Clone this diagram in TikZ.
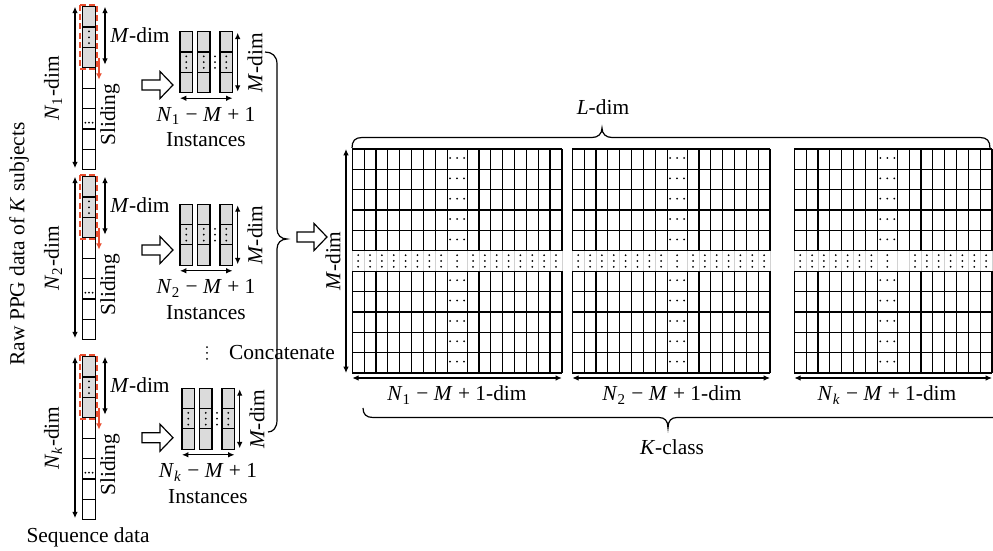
\documentclass[tikz,border=0pt]{standalone}
\usepackage{fontspec}
\setmainfont{Liberation Serif}
\usetikzlibrary{arrows.meta}
\definecolor{cellgray}{gray}{0.86}
\definecolor{slidered}{RGB}{232,78,48}
\def\vdotcell#1#2{\foreach \dd in {-5.8,0,5.8}{\fill (#1,#2+\dd) circle[radius=0.5pt];}}
\def\hdotcell#1#2#3{\foreach \dd in {-1,0,1}{\fill (#1+#3*\dd,#2) circle[radius=0.5pt];}}
\tikzset{
  grid line/.style={line width=0.6pt},
  dim arrow/.style={line width=0.6pt,{Latex[length=3.2pt,width=2.8pt]}-{Latex[length=3.2pt,width=2.8pt]}},
  slide box/.style={draw=slidered,line width=0.8pt,dash pattern=on 3pt off 1.6pt},
  hollow/.style={line width=0.6pt,fill=white},
  lab/.style={inner sep=0pt,font=\fontsize{10.7}{12}\selectfont},
}

\begin{document}
\begin{tikzpicture}[x=0.5pt,y=-0.5pt]
\useasboundingbox (0,0) rectangle (993,551);
%left side: K subjects
\foreach \ct/\it/\hy/\dx/\s/\n in {6.7/31.7/85/0/1/1,176.7/204.3/250/0/2/2,356.7/388.3/437.7/2/{\textit{k}}/3}{
  %sequence column
  \foreach \c in {0,1,2}{\draw[grid line,fill=cellgray] (82.5,\ct+\c*20.4) rectangle (95.5,\ct+\c*20.4+20.4);}
  \foreach \c in {3,...,7}{\draw[grid line] (82.5,\ct+\c*20.4) rectangle (95.5,\ct+\c*20.4+20.4);}
  \vdotcell{89}{\ct+30.6}
  \hdotcell{89}{\ct+116}{3.6}
  %sliding window
  \draw[slide box] (80,\ct-1.7) rectangle (96.7,\ct+62.6);
  \draw[slidered,line width=0.8pt,-{Latex[length=3.2pt,width=3pt]}] (99,\ct+51) -- (99,\ct+73);
  \draw[dim arrow] (75,\ct) -- (75,\ct+161.5);
  \node[lab,rotate=90] (ndim\n) at (53,\ct+81.5) {\textit{N}\textsubscript{\s}-dim};
  \draw[dim arrow] (105,\ct) -- (105,\ct+58);
  \node[lab] (mwin\n) at (140,\ct+28) {\textit{M}-dim};
  \node[lab,rotate=90] (slide\n) at (110,\ct+108) {Sliding};
  %hollow arrow
  \draw[hollow] (142,\hy-5) -- (160,\hy-5) -- (160,\hy-13.5) -- (173,\hy)
    -- (160,\hy+13.5) -- (160,\hy+5) -- (142,\hy+5) -- cycle;
  %instances
  \foreach \bx in {180,197.5,220}{
    \foreach \c in {0,1,2}{\draw[grid line,fill=cellgray] (\bx+\dx,\it+\c*20.3) rectangle (\bx+\dx+12.5,\it+\c*20.3+20.3);}
    \vdotcell{\bx+\dx+6.25}{\it+30.45}
  }
  \vdotcell{215+\dx}{\it+30.45}
  \draw[dim arrow] (237.7+\dx,\it+1) -- (237.7+\dx,\it+60);
  \node[lab,rotate=90] (minst\n) at (255+\dx,\it+31) {\textit{M}-dim};
  \draw[dim arrow] (180+\dx,\it+66.5) -- (232.5+\dx,\it+66.5);
  \node[lab] (ninst\n) at (206+\dx,\it+84) {\textit{N}\textsubscript{\s} − \textit{M} + 1};
  \node[lab] (inst\n) at (206+\dx,\it+108) {Instances};
}
\vdotcell{207}{353}
\node[lab] (concat) at (282,353) {Concatenate};
\node[lab,rotate=90] (raw) at (19,244) {Raw PPG data of \textit{K} subjects};
\node[lab] (seq) at (88,537) {Sequence data};
%concatenate brace
\draw[grid line] (265,52) .. controls (272,52) and (277,56) .. (277,64) -- (277,229)
  .. controls (277,235) and (281,239) .. (287,239) .. controls (281,239) and (277,243) .. (277,249)
  -- (277,420) .. controls (277,428) and (273,432) .. (268,432);
\draw[hollow] (297,232) -- (314,232) -- (314,223.5) -- (327,237)
  -- (314,250.5) -- (314,242) -- (297,242) -- cycle;
%matrices
\foreach \mx/\na/\nb/\gap in {352.3/8/8/0,572.3/8/7/0,794.3/7/8/1}{
  \pgfmathsetmacro\dl{\mx+\na*11.85}
  \pgfmathsetmacro\dr{\dl+20}
  \pgfmathsetmacro\mr{\dr+\nb*11.85}
  \pgfmathtruncatemacro\nam{\na-1}
  \pgfmathtruncatemacro\nbm{\nb-1}
  %rows
  \foreach \r in {0,...,11}{\draw[grid line] (\mx,149+\r*20.364) -- (\mr,149+\r*20.364);}
  %columns
  \foreach \c in {0,...,\na}{
    \draw[grid line] (\mx+\c*11.85,149) -- (\mx+\c*11.85,250.8);
    \draw[grid line] (\mx+\c*11.85,271.2) -- (\mx+\c*11.85,373);
    \draw[gray!35,line width=0.4pt] (\mx+\c*11.85,250.8) -- (\mx+\c*11.85,271.2);
  }
  \foreach \c in {0,...,\nb}{
    \draw[grid line] (\dr+\c*11.85,149) -- (\dr+\c*11.85,250.8);
    \draw[grid line] (\dr+\c*11.85,271.2) -- (\dr+\c*11.85,373);
    \draw[gray!35,line width=0.4pt] (\dr+\c*11.85,250.8) -- (\dr+\c*11.85,271.2);
  }
  %dots
  \foreach \r in {0,1,2,3,4,6,7,8,9,10}{\hdotcell{\dl+10}{149+\r*20.364+9}{7}}
  \foreach \c in {0,...,\nam}{\vdotcell{\mx+\c*11.85+5.9}{261}}
  \vdotcell{\dl+10}{261}
  \foreach \c in {\gap,...,\nbm}{\vdotcell{\dr+\c*11.85+5.9}{261}}
  \draw[dim arrow] (\mx,378) -- (\mr,378);
}
\draw[dim arrow] (346,149) -- (346,373);
\node[lab,rotate=90] (mall) at (333,261) {\textit{M}-dim};
\node[lab] (mlab1) at (457,395) {\textit{N}\textsubscript{1} − \textit{M} + 1-dim};
\node[lab] (mlab2) at (672,395) {\textit{N}\textsubscript{2} − \textit{M} + 1-dim};
\node[lab] (mlab3) at (887,395) {\textit{N}\textsubscript{\textit{k}} − \textit{M} + 1-dim};
%braces
\draw[grid line] (352,148) .. controls (352,141) and (355,137.5) .. (362,137.5) -- (592,137.5)
  .. controls (598,137.5) and (602,134) .. (602,128) .. controls (602,134) and (606,137.5) .. (612,137.5)
  -- (980,137.5) .. controls (987,137.5) and (990,141) .. (990,148);
\node[lab] (ldim) at (603,107) {\textit{L}-dim};
\draw[grid line] (363,408) .. controls (363,414) and (366,417.5) .. (373,417.5) -- (659,417.5)
  .. controls (665,417.5) and (668,421) .. (668,428) .. controls (668,421) and (671,417.5) .. (677,417.5)
  -- (993,417.5);
\node[lab] (kclass) at (672,447) {\textit{K}-class};
\end{tikzpicture}
\end{document}
